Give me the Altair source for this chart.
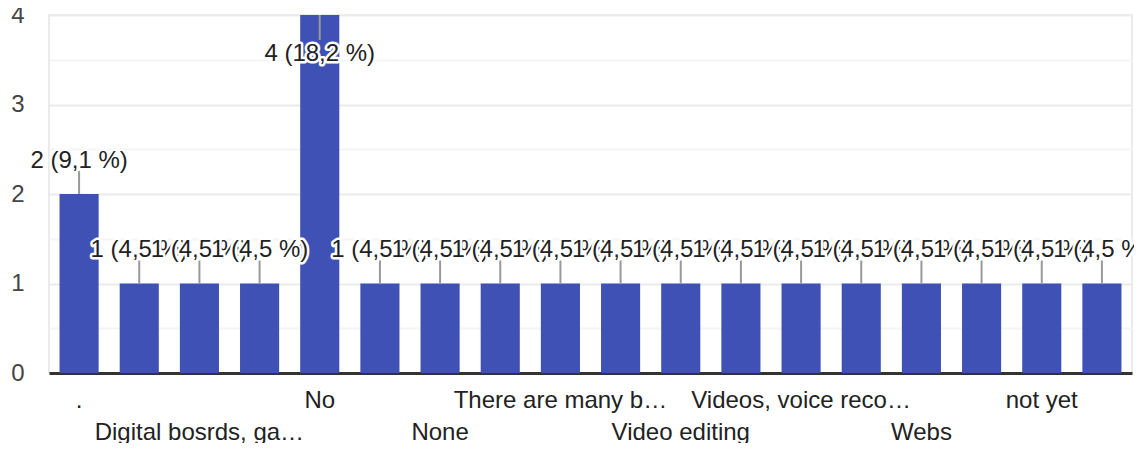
import altair as alt
import pandas as pd

# ---- data ----
categories = [
    ".", "Canva", "Digital bosrds, ga…", "Kahoot", "No", "No, not really",
    "None", "Padlet", "There are many b…", "Tiktok", "Video editing",
    "Video making", "Videos, voice reco…", "Voice notes", "Webs", "YouTube",
    "not yet", "online quizzes",
]
counts = [2, 1, 1, 1, 4, 1, 1, 1, 1, 1, 1, 1, 1, 1, 1, 1, 1, 1]
y_ticks = [0, 0.5, 1, 1.5, 2, 2.5, 3, 3.5, 4]

total = sum(counts)
maxv = max(counts)
labels = [f"{c} ({c / total * 100:.1f} %)".replace(".", ",") for c in counts]

df = pd.DataFrame({"category": categories, "count": counts, "label": labels})

rows = []
for i, (c, n, l) in enumerate(zip(categories, counts, labels)):
    rows.append(dict(category=c, count=n, label=l, kind="halo", ord=2 * i))
    rows.append(dict(category=c, count=n, label=l, kind="text", ord=2 * i + 1))
ann_df = pd.DataFrame(rows)

FONT = "Liberation Sans"
W, H = 1083, 358

x = alt.X(
    "category:N",
    sort=categories,
    scale=alt.Scale(domain=categories, paddingInner=0.35, paddingOuter=0.175),
    axis=alt.Axis(labels=False, ticks=False, domain=True, domainColor="#333333",
                  domainWidth=3, grid=False, title=None),
)
y = alt.Y(
    "count:Q",
    scale=alt.Scale(domain=[0, maxv], nice=False, zero=True),
    axis=alt.Axis(
        values=y_ticks,
        labelExpr="datum.value % 1 === 0 ? format(datum.value, 'd') : ''",
        ticks=False, domain=False, title=None,
        gridColor={"condition": {"test": "datum.value % 1 === 0", "value": "#ebebeb"},
                   "value": "#f5f5f5"},
        gridWidth=2,
        labelFontSize=24, labelColor="#444444", labelPadding=25, labelFont=FONT,
    ),
)

bars = alt.Chart(df).mark_bar(color="#3f51b5").encode(x=x, y=y)

stems = alt.Chart(df).transform_filter(f"datum.count < {maxv}").mark_rule(
    color="#999999", strokeWidth=2, y2Offset=-23
).encode(x=x, y=y, y2=alt.Y2("count"))

stems_max = alt.Chart(df).transform_filter(f"datum.count == {maxv}").mark_rule(
    color="#999999", strokeWidth=2, y2Offset=25
).encode(x=x, y=y, y2=alt.Y2("count"))

def ann_layer(test, dy):
    return alt.Chart(ann_df).transform_filter(test).mark_text(
        font=FONT, fontSize=24, baseline="alphabetic", align="center", dy=dy,
        stroke="white", strokeJoin="round",
    ).encode(
        x=x, y=y, text="label:N",
        color=alt.condition("datum.kind == 'halo'", alt.value("white"), alt.value("#222222")),
        strokeWidth=alt.condition("datum.kind == 'halo'", alt.value(5), alt.value(0)),
        order=alt.Order("ord:Q"),
    )

ann_n = ann_layer(f"datum.count < {maxv}", -26.5)
ann_m = ann_layer(f"datum.count == {maxv}", 45.5)

def xlab(rem, ypix):
    return alt.Chart(df).transform_window(idx="row_number()").transform_filter(
        f"(datum.idx - 1) % 4 == {rem}"
    ).mark_text(font=FONT, fontSize=24, color="#222222", baseline="alphabetic",
                align="center").encode(x=x, y=alt.value(ypix), text="category:N")

xl1 = xlab(0, H + 35)
xl2 = xlab(2, H + 67)

chart = alt.layer(bars, stems, stems_max, ann_n, ann_m, xl1, xl2).properties(
    width=W, height=H,
    autosize=alt.AutoSizeParams(type="none"),
    padding={"left": 41, "top": 7, "right": 2, "bottom": 70},
).configure_view(stroke="#ebebeb", strokeWidth=2)

chart.save("out.html", embed_options={"renderer": "svg", "actions": False})
